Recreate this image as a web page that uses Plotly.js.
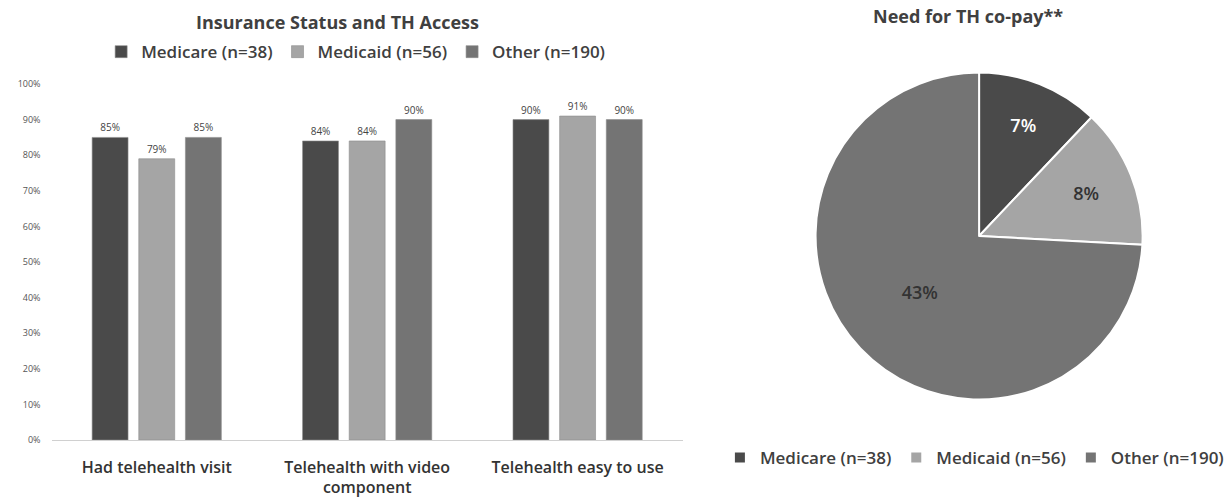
<!DOCTYPE html>
<html>
<head>
<meta charset="utf-8">
<script src="https://cdn.plot.ly/plotly-3.0.1.min.js"></script>
<style>html,body{margin:0;padding:0;background:#fff;}#chart{width:1229px;height:501px;}</style>
</head>
<body>
<div id="chart"></div>
<script>
// ---- data ----
const categories = ["Had telehealth visit", "Telehealth with video<br>component", "Telehealth easy to use"];
const seriesNames = ["Medicare (n=38)", "Medicaid (n=56)", "Other (n=190)"];
const medicare = [85, 84, 90];
const medicaid = [79, 84, 91];
const other = [85, 90, 90];
const copayLabels = ["Medicare (n=38)", "Medicaid (n=56)", "Other (n=190)"];
const copayValues = [7, 8, 43];
const yTickVals = [0, 10, 20, 30, 40, 50, 60, 70, 80, 90, 100];
const yTickText = ["0%", "10%", "20%", "30%", "40%", "50%", "60%", "70%", "80%", "90%", "100%"];

const colors = ["#4a4a4a", "#a5a5a5", "#747474"];
const FONT = "'Open Sans', sans-serif";

const barSeries = [medicare, medicaid, other];
const traces = barSeries.map((vals, i) => ({
  type: "bar",
  x: categories,
  y: vals,
  name: seriesNames[i],
  legend: "legend",
  marker: {color: colors[i], line: {color: "#8c8c8c", width: 0.6}},
  text: vals.map(v => v + "%"),
  textposition: "outside",
  cliponaxis: false,
  textfont: {size: 10, color: "#444", family: FONT},
  hoverinfo: "none"
}));

traces.push({
  type: "pie",
  labels: copayLabels,
  values: copayValues,
  legend: "legend2",
  sort: false,
  direction: "clockwise",
  rotation: 0,
  domain: {x: [0.6696, 0.9381], y: [0.1996, 0.8583]},
  marker: {colors: colors, line: {color: "#ffffff", width: 2}},
  texttemplate: "%{value}%",
  textposition: "inside",
  insidetextorientation: "horizontal",
  textfont: {size: 18, color: ["#ffffff", "#333333", "#333333"], family: FONT, weight: 600},
  hoverinfo: "none"
});

const layout = {
  width: 1229,
  height: 501,
  margin: {l: 0, r: 0, t: 0, b: 0},
  paper_bgcolor: "#ffffff",
  plot_bgcolor: "#ffffff",
  font: {family: FONT, color: "#404040"},
  barmode: "group",
  bargap: 0.335,
  bargroupgap: 0.23,
  xaxis: {
    domain: [0.0423, 0.5606],
    showline: true,
    linecolor: "#d0d0d0",
    linewidth: 1.5,
    ticks: "",
    tickfont: {size: 16, color: "#333", family: FONT, weight: 600},
    ticklabelstandoff: 12,
    fixedrange: true
  },
  yaxis: {
    domain: [0.1218, 0.8323],
    range: [0, 100],
    tickmode: "array",
    tickvals: yTickVals,
    ticktext: yTickText,
    showgrid: false,
    zeroline: false,
    showline: false,
    tickfont: {size: 9, color: "#555", family: FONT},
    ticklabelstandoff: 10,
    fixedrange: true
  },
  legend: {
    orientation: "h",
    x: 0.292, xanchor: "center",
    y: 0.896, yanchor: "middle",
    font: {size: 17, color: "#404040", family: FONT, weight: 600},
    itemwidth: 30,
    traceorder: "normal"
  },
  legend2: {
    orientation: "h",
    x: 0.80, xanchor: "center",
    y: 0.0858, yanchor: "middle",
    font: {size: 17, color: "#404040", family: FONT, weight: 600},
    itemwidth: 30,
    traceorder: "normal"
  },
  annotations: [
    {text: "Insurance Status and TH Access", xref: "paper", yref: "paper",
     x: 0.2767, y: 1 - 22/501, xanchor: "center", yanchor: "middle", showarrow: false,
     font: {size: 18, color: "#404040", family: FONT, weight: "bold"}},
    {text: "Need for TH co-pay**", xref: "paper", yref: "paper",
     x: 977/1229, y: 1 - 16/501, xanchor: "center", yanchor: "middle", showarrow: false,
     font: {size: 18, color: "#404040", family: FONT, weight: "bold"}}
  ],
  showlegend: true
};

Plotly.newPlot("chart", traces, layout, {displayModeBar: false, staticPlot: true});
</script>
</body>
</html>
